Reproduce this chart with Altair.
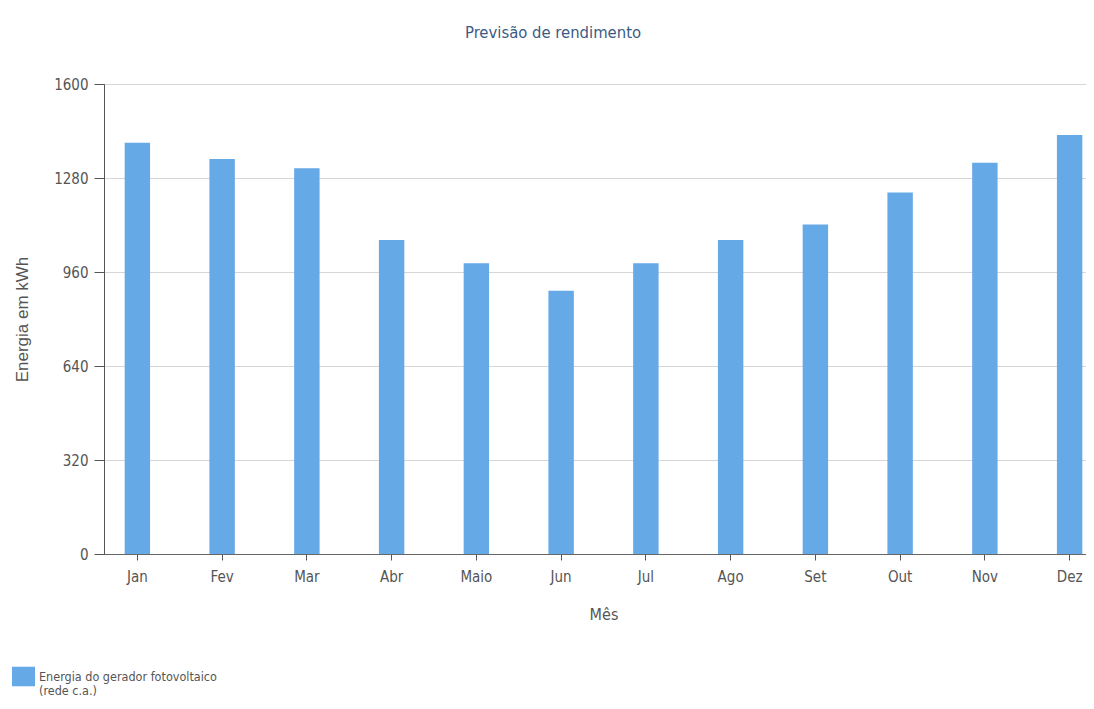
import altair as alt
import pandas as pd

meses = ["Jan", "Fev", "Mar", "Abr", "Maio", "Jun", "Jul", "Ago", "Set", "Out", "Nov", "Dez"]
energia = [1400, 1345, 1313, 1069, 990, 896, 990, 1069, 1122, 1231, 1332, 1426]
serie = "Energia do gerador fotovoltaico\n(rede c.a.)"
y_ticks = [0, 320, 640, 960, 1280, 1600]

df = pd.DataFrame({"Mês": meses, "Energia": energia, "Série": [serie] * len(meses)})

NARROW = "Liberation Sans Narrow, DejaVu Sans Condensed, Arial Narrow, sans-serif"
GRAY = "#555555"

chart = alt.Chart(df).mark_bar(color="#66a9e7").encode(
    x=alt.X(
        "Mês:N",
        sort=meses,
        scale=alt.Scale(paddingInner=0.7, paddingOuter=0.35, range=[-9, 1008]),
        axis=alt.Axis(
            title="Mês",
            labelAngle=0,
            labelFont=NARROW,
            labelFontSize=15,
            labelColor=GRAY,
            labelPadding=9,
            tickSize=6,
            tickColor=GRAY,
            domainColor="#666666",
            titleFont=NARROW,
            titleFontSize=16,
            titleFontWeight="normal",
            titleColor=GRAY,
            titlePadding=22,
            grid=False,
        ),
    ),
    y=alt.Y(
        "Energia:Q",
        scale=alt.Scale(domain=[0, 1600], nice=False),
        axis=alt.Axis(
            title="Energia em kWh",
            values=y_ticks,
            format="d",
            labelFont=NARROW,
            labelFontSize=15,
            labelColor=GRAY,
            labelPadding=6,
            tickSize=10,
            tickColor=GRAY,
            domainColor="#555555",
            gridColor="#d6d6d6",
            titleFont="Liberation Sans, Arial, sans-serif",
            titleFontSize=17,
            titleFontWeight="normal",
            titleColor=GRAY,
            titleX=-82,
            titleY=235,
            titleAngle=270,
            titleBaseline="middle",
            titleAlign="center",
        ),
    ),
    fill=alt.Fill(
        "Série:N",
        scale=alt.Scale(range=["#66a9e7"]),
        legend=alt.Legend(
            title=None,
            orient="none",
            legendX=-92,
            legendY=581,
            symbolType="M-1,-0.85H1V0.85H-1Z",
            symbolSize=529,
            symbolStrokeWidth=0,
            labelFont=NARROW,
            labelFontSize=12.5,
            labelColor=GRAY,
            labelLimit=400,
            labelExpr="split(datum.label, '\\n')",
        ),
    ),
).properties(
    width=982,
    height=470,
    title=alt.TitleParams(
        "Previsão de rendimento",
        font=NARROW,
        fontSize=16.5,
        fontWeight="normal",
        color="#3b5b85",
        dx=-42,
        offset=36,
    ),
    autosize=alt.AutoSizeParams(type="none"),
    padding={"left": 96, "top": 76, "right": 0, "bottom": 146},
).configure_view(stroke=None)

chart.save("out.html", embed_options={"renderer": "svg", "actions": False})
